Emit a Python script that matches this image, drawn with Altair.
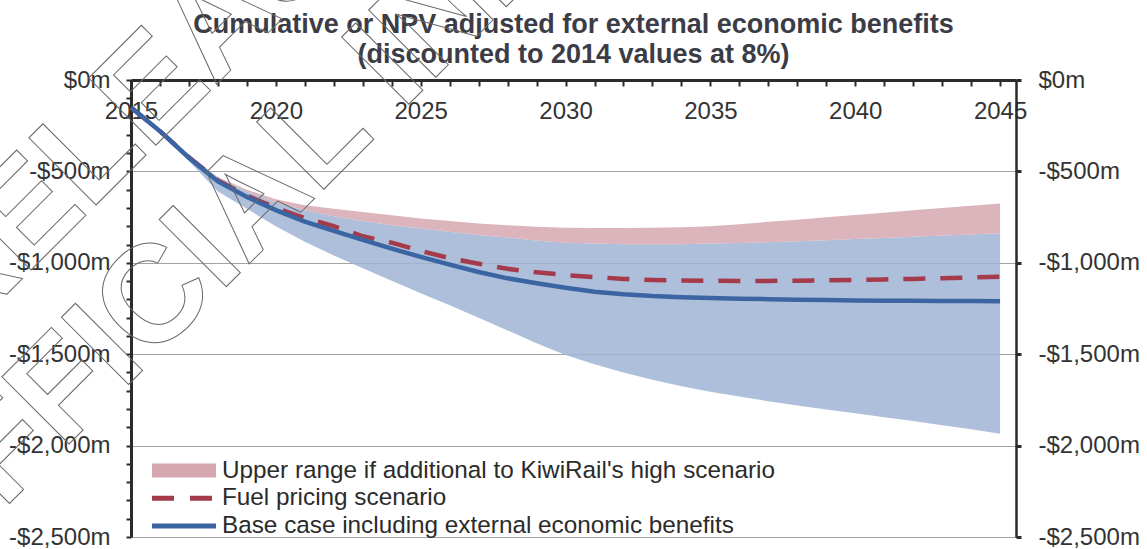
import altair as alt
import pandas as pd

# ---- data ($m, cumulative NPV, discounted to 2014 at 8%) ----
YEARS = list(range(2015, 2046))

BASE_CASE = [-150, -280, -425, -555, -640, -712, -775, -825, -875, -922,
             -968, -1010, -1050, -1085, -1112, -1137, -1158, -1172, -1182, -1188,
             -1192, -1196, -1199, -1202, -1204, -1206, -1207, -1208, -1209, -1209,
             -1210]

FUEL_PRICING = [-150, -280, -423, -550, -632, -700, -755, -800, -855, -890,
                -935, -975, -1005, -1033, -1052, -1067, -1078, -1088, -1094, -1097,
                -1098, -1099, -1099, -1098, -1096, -1094, -1091, -1088, -1084, -1080,
                -1076]

RANGE_LOW = [-150, -292, -445, -610, -705, -800, -885, -960, -1030, -1098,
             -1166, -1232, -1300, -1370, -1440, -1505, -1555, -1600, -1640, -1675,
             -1705, -1732, -1757, -1780, -1802, -1823, -1845, -1866, -1888, -1910,
             -1935]

RANGE_HIGH = [-150, -275, -415, -535, -610, -670, -712, -745, -772, -795,
              -812, -830, -848, -862, -878, -890, -895, -898, -899, -898,
              -895, -891, -887, -882, -876, -870, -864, -858, -851, -845,
              -838]

UPPER_RANGE = [-150, -272, -412, -530, -600, -652, -685, -705, -722, -740,
               -757, -772, -785, -795, -803, -808, -810, -810, -808, -805,
               -800, -789, -776, -764, -751, -739, -726, -713, -700, -688,
               -675]

SERIES = [
    "Upper range if additional to KiwiRail's high scenario",
    "Fuel pricing scenario",
    "Base case including external economic benefits",
]
SERIES_COLORS = ["#d6a7b0", "#a53a4b", "#3a65a2"]
BAND_COLOR = "#a0b4d5"

Y_MINOR_TICKS = list(range(-2500, 1, 100))
Y_MAJOR_TICKS = list(range(-2500, 1, 500))

TITLE_LINES = [
    "Cumulative  or NPV adjusted for external economic benefits",
    "(discounted to 2014 values at 8%)",
]
WATERMARK = ["RELEASED UNDER THE", "OFFICIAL INFORMATION ACT"]

# ---- layout ----
W, H = 885, 457
FONT = "Liberation Sans"
INK = "#2b2b2b"
LABEL_INK = "#333333"
TICK_FONT_SIZE = 24

bands = pd.DataFrame({
    "year": YEARS,
    "low": RANGE_LOW,
    "high": RANGE_HIGH,
    "upper": UPPER_RANGE,
    "series": SERIES[0],
})
fuel = pd.DataFrame({"year": YEARS, "value": FUEL_PRICING})
base = pd.DataFrame({"year": YEARS, "value": BASE_CASE})

y_scale = alt.Scale(domain=[-2500, 0], nice=False, zero=False)
money_expr = "datum.value === 0 ? '$0m' : '-$' + format(-datum.value, ',') + 'm'"

# year axis sits along the top edge, ticks pointing into the plot
x_enc = alt.X(
    "year:Q",
    scale=alt.Scale(domain=[2015, 2045.55], nice=False, zero=False),
    axis=alt.Axis(
        orient="bottom", offset=-H, values=YEARS, format="d",
        labelExpr="datum.value % 5 === 0 ? datum.label : ''",
        labelFlush=False, labelOverlap=False, labelPadding=13,
        labelFontSize=TICK_FONT_SIZE, labelColor=LABEL_INK, labelFont=FONT,
        tickSize=6, tickWidth=2, tickColor=INK,
        domainWidth=3, domainColor=INK, grid=False, title=None,
    ),
)

left_axis = alt.Axis(
    orient="left", values=Y_MINOR_TICKS,
    labelExpr=f"datum.value % 500 === 0 ? ({money_expr}) : ''",
    labelFontSize=TICK_FONT_SIZE, labelColor=LABEL_INK, labelFont=FONT, labelPadding=16,
    tickSize=5, tickWidth=2, tickColor=INK,
    domainWidth=3, domainColor=INK, grid=False, title=None,
)

right_axis = alt.Axis(
    orient="right", values=Y_MAJOR_TICKS, labelExpr=money_expr,
    labelFontSize=TICK_FONT_SIZE, labelColor=LABEL_INK, labelFont=FONT, labelPadding=17,
    tickSize=5, tickWidth=3, tickColor=INK,
    domainWidth=2.5, domainColor=INK,
    grid=True, gridColor="#a3a3a3", gridWidth=1, title=None,
)

blue_band = alt.Chart(bands).mark_area(color=BAND_COLOR, opacity=0.85).encode(
    x=x_enc,
    y=alt.Y("low:Q", scale=y_scale, axis=left_axis),
    y2="high:Q",
)

# one legend: a filled swatch for the range, line swatches for the two scenarios
legend = alt.Legend(
    title=None, orient="none", legendX=18.5, legendY=377, direction="vertical",
    symbolType=alt.ExprRef("datum.index === 0 ? 'M-1,-0.22L1,-0.22L1,0.22L-1,0.22Z' : 'stroke'"),
    symbolStrokeColor=alt.ExprRef("datum.index === 0 ? 'transparent' : scale('color', datum.value)"),
    symbolDash=alt.ExprRef("datum.index === 1 ? [22, 16] : [1, 0]"),
    symbolSize=4096, symbolStrokeWidth=5, symbolOpacity=1,
    clipHeight=27, rowPadding=0.8,
    labelFont=FONT, labelFontSize=24.3, labelColor=INK, labelOffset=3.5,
    labelLimit=900, padding=0,
)

pink_band = alt.Chart(bands).mark_area(opacity=0.85).encode(
    x=x_enc,
    y=alt.Y("upper:Q", scale=y_scale, axis=right_axis),
    y2="high:Q",
    color=alt.Color("series:N", scale=alt.Scale(domain=SERIES, range=SERIES_COLORS), legend=legend),
)

fuel_line = alt.Chart(fuel).mark_line(
    color=SERIES_COLORS[1], strokeWidth=4.5, strokeDash=[22, 15], strokeCap="butt"
).encode(
    x=x_enc,
    y=alt.Y("value:Q", scale=y_scale, axis=None),
)

base_line = alt.Chart(base).mark_line(color=SERIES_COLORS[2], strokeWidth=4.5).encode(
    x=x_enc,
    y=alt.Y("value:Q", scale=y_scale, axis=None),
)

# two-line heading centred over the plot
title_style = dict(
    font=FONT, fontSize=27, fontWeight="bold", color="#3c3c46",
    align="center", baseline="alphabetic",
)
title_top = alt.Chart(pd.DataFrame({"t": [TITLE_LINES[0]]})).mark_text(**title_style).encode(
    x=alt.value(W / 2), y=alt.value(-47), text="t:N"
)
title_bottom = alt.Chart(pd.DataFrame({"t": [TITLE_LINES[1]]})).mark_text(**title_style).encode(
    x=alt.value(W / 2), y=alt.value(-17), text="t:N"
)

# outlined release stamp running diagonally across the left side
stamp_style = dict(
    font=FONT, fontSize=138, fontWeight="bold", angle=315,
    align="left", baseline="middle",
    fillOpacity=0, stroke="#6a6a6a", strokeWidth=1,
)
stamp_top = alt.Chart(pd.DataFrame({"line": [WATERMARK[0]]})).mark_text(**stamp_style).encode(
    x=alt.value(-206), y=alt.value(238), text="line:N"
)
stamp_bottom = alt.Chart(pd.DataFrame({"line": [WATERMARK[1]]})).mark_text(**stamp_style).encode(
    x=alt.value(-233), y=alt.value(477), text="line:N"
)

chart = (
    alt.layer(blue_band, pink_band, fuel_line, base_line,
              title_top, title_bottom, stamp_top, stamp_bottom)
    .resolve_axis(y="independent")
    .properties(
        width=W,
        height=H,
        autosize=alt.AutoSizeParams(type="none"),
        padding={"left": 131, "top": 80, "right": 131, "bottom": 12},
    )
    .configure_view(stroke=None)
    .configure(font=FONT)
)

chart.save("out.html", embed_options={"renderer": "svg", "actions": False})
